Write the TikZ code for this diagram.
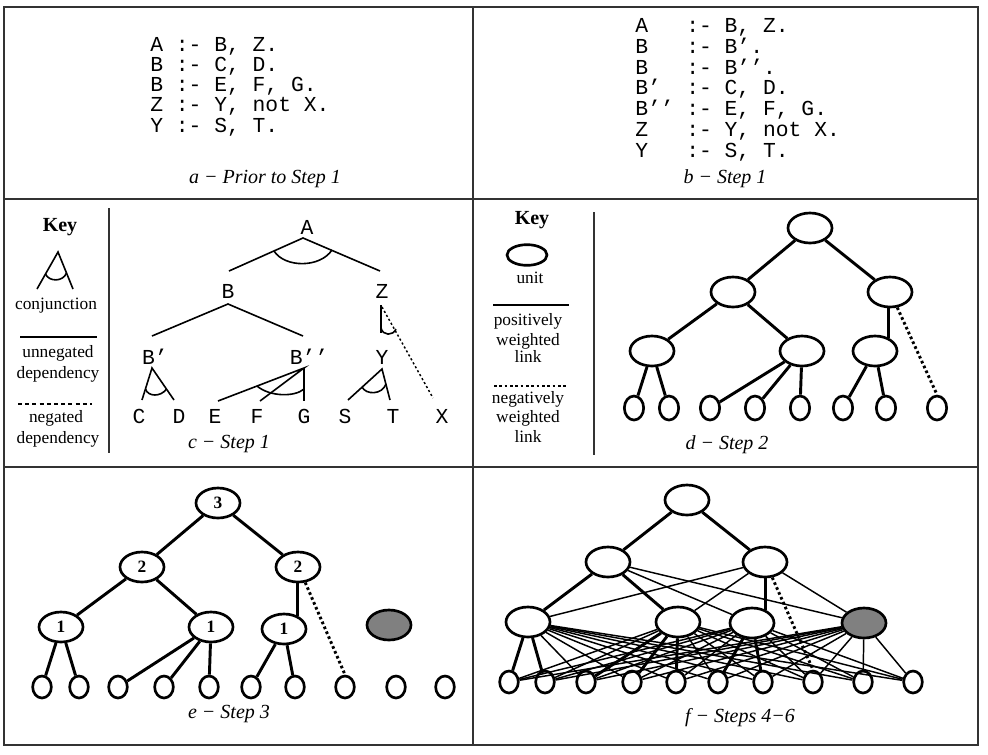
\documentclass[tikz,border=0pt]{standalone}
\usepackage{fontspec}
\setmainfont{Liberation Serif}
\setmonofont{Liberation Mono}
\usetikzlibrary{shapes.geometric}
\definecolor{unitgray}{RGB}{128,128,128}
\tikzset{
  panelframe/.style={draw=black!80, line width=1.4pt},
  sepline/.style={draw=black!80, line width=1.1pt},
  codeline/.style={font=\fontsize{16}{18}\ttfamily, anchor=base west, inner sep=0pt},
  lbl/.style={font=\fontsize{16}{18}\ttfamily, inner sep=0pt},
  captxt/.style={font=\fontsize{15}{17}\selectfont\itshape, anchor=base, inner sep=0pt},
  keyhead/.style={font=\fontsize{15}{17}\selectfont\bfseries, anchor=base, inner sep=0pt},
  keytxt/.style={font=\fontsize{13}{15}\selectfont, anchor=base, inner sep=0pt},
  deplink/.style={line width=1.2pt},
  negdep/.style={line width=1.1pt, dash pattern=on 1.6pt off 1.8pt},
  keydash/.style={line width=0.9pt, dash pattern=on 3pt off 2.4pt},
  unit/.style={ellipse, draw, line width=2pt, fill=white, minimum width=33pt, minimum height=22.5pt, inner sep=0pt, font=\fontsize{13}{15}\selectfont\bfseries},
  grayunit/.style={unit, fill=unitgray},
  leaf/.style={ellipse, draw, line width=2pt, fill=white, minimum width=14pt, minimum height=16.5pt, inner sep=0pt},
  tallleaf/.style={leaf, minimum width=14.5pt, minimum height=18pt},
  poslink/.style={line width=2.2pt},
  neglink/.style={line width=2.2pt, dash pattern=on 2pt off 2pt},
  thinlink/.style={line width=1.1pt},
}
\newcommand{\pr}{’}
\begin{document}
\begin{tikzpicture}[x=0.75pt, y=-0.75pt]
\useasboundingbox (0,0) rectangle (988,754);
% ---------- frame ----------
\draw[panelframe] (4,7) rectangle (978,745);
\draw[panelframe] (4,199) -- (978,199);
\draw[panelframe] (4,467) -- (978,467);
\draw[panelframe] (473,7) -- (473,745);

% ---------- panel a ----------
\node[codeline] (a1) at (150,51) {A :- B, Z.};
\node[codeline] (a2) at (150,71.3) {B :- C, D.};
\node[codeline] (a3) at (150,91.6) {B :- E, F, G.};
\node[codeline] (a4) at (150,111.9) {Z :- Y, not X.};
\node[codeline] (a5) at (150,132.2) {Y :- S, T.};
\node[captxt] (capa) at (265,183) {a − Prior to Step 1};

% ---------- panel b ----------
\node[codeline] (b1l) at (635,32.5) {A};
\node[codeline] (b1r) at (686,32.5) {:- B, Z.};
\node[codeline] (b2l) at (635,53.3) {B};
\node[codeline] (b2r) at (686,53.3) {:- B\pr.};
\node[codeline] (b3l) at (635,74.1) {B};
\node[codeline] (b3r) at (686,74.1) {:- B\pr\pr.};
\node[codeline] (b4l) at (635,94.9) {B\pr};
\node[codeline] (b4r) at (686,94.9) {:- C, D.};
\node[codeline] (b5l) at (635,115.7) {B\pr\pr};
\node[codeline] (b5r) at (686,115.7) {:- E, F, G.};
\node[codeline] (b6l) at (635,136.5) {Z};
\node[codeline] (b6r) at (686,136.5) {:- Y, not X.};
\node[codeline] (b7l) at (635,157.3) {Y};
\node[codeline] (b7r) at (686,157.3) {:- S, T.};
\node[captxt] (capb) at (725,183) {b − Step 1};

% ---------- panel c : key ----------
\node[keyhead] (ckey) at (60,231) {Key};
\coordinate (kA) at (58,252);
\coordinate (kAl) at (37,289);
\coordinate (kAr) at (73,289);
\draw[deplink] (kAl) -- (kA) -- (kAr);
\draw[deplink] (45.5,274) .. controls (49,282) and (63,282) .. (66.5,273);
\node[keytxt] (ckconj) at (56,309) {conjunction};
\coordinate (ksol1) at (20,337);
\coordinate (ksol2) at (97,337);
\draw[deplink] (ksol1) -- (ksol2);
\node[keytxt] (ckun1) at (58,357) {unnegated};
\node[keytxt] (ckun2) at (58,378) {dependency};
\coordinate (kdash1) at (18,404);
\coordinate (kdash2) at (92,404);
\draw[keydash] (kdash1) -- (kdash2);
\node[keytxt] (ckng1) at (56,422) {negated};
\node[keytxt] (ckng2) at (58,443) {dependency};
\coordinate (csep1) at (109,208);
\coordinate (csep2) at (109,453);
\draw[sepline] (csep1) -- (csep2);

% ---------- panel c : tree ----------
\node[lbl] (cA) at (307,227) {A};
\node[lbl] (cB) at (228,291) {B};
\node[lbl] (cZ) at (382,291) {Z};
\node[lbl] (cB1) at (155,357) {B\pr};
\node[lbl] (cB2) at (309,357) {B\pr\pr};
\node[lbl] (cY) at (382,357) {Y};
\node[lbl] (cC) at (139,416) {C};
\node[lbl] (cD) at (179,416) {D};
\node[lbl] (cE) at (215,416) {E};
\node[lbl] (cF) at (257,416) {F};
\node[lbl] (cG) at (304,416) {G};
\node[lbl] (cS) at (345,416) {S};
\node[lbl] (cT) at (393,416) {T};
\node[lbl] (cX) at (442,416) {X};

\coordinate (pA) at (303,238);
\coordinate (pAl) at (229,271);
\coordinate (pAr) at (380,271);
\draw[deplink] (pAl) -- (pA) -- (pAr);
\draw[deplink] (274,251) .. controls (285,268) and (320,268) .. (332,250);

\coordinate (pB) at (228,304);
\coordinate (pBl) at (152,336);
\coordinate (pBr) at (303,336);
\draw[deplink] (pBl) -- (pB) -- (pBr);

\coordinate (pZ) at (381,305);
\coordinate (pZy) at (381,333);
\coordinate (pZt) at (382,307);
\coordinate (pZx) at (433,398);
\draw[deplink] (pZ) -- (pZy);
\draw[negdep] (pZt) -- (pZx);
\draw[deplink] (381,328) .. controls (383,336) and (393,336) .. (396,329);

\coordinate (pB1) at (152,368);
\coordinate (pB1l) at (142,400);
\coordinate (pB1r) at (174,400);
\draw[deplink] (pB1l) -- (pB1) -- (pB1r);
\draw[deplink] (145.5,389) .. controls (148,397) and (161,397) .. (166.5,389);

\coordinate (pB2) at (304,368);
\coordinate (pB2e) at (218,401);
\coordinate (pB2f) at (260,401);
\coordinate (pB2g) at (304,401);
\draw[deplink] (pB2e) -- (pB2) -- (pB2f);
\draw[deplink] (pB2) -- (pB2g);
\draw[deplink] (257,386) .. controls (270,397) and (295,397) .. (304,389);

\coordinate (pY) at (382,369);
\coordinate (pYl) at (348,400);
\coordinate (pYr) at (390,400);
\draw[deplink] (pYl) -- (pY) -- (pYr);
\draw[deplink] (362,387) .. controls (366,395) and (382,395) .. (386,384);

\node[captxt] (capc) at (229,448) {c − Step 1};

% ---------- panel d : key ----------
\node[keyhead] (dkey) at (532,224) {Key};
\node[unit, minimum width=30pt, minimum height=15.5pt] (dkU) at (527,255) {};
\node[keytxt] (dkunit) at (530,283) {unit};
\coordinate (dks1) at (493,305);
\coordinate (dks2) at (569,305);
\draw[poslink] (dks1) -- (dks2);
\node[keytxt] (dkp1) at (528,325) {positively};
\node[keytxt] (dkp2) at (528,345) {weighted};
\node[keytxt] (dkp3) at (528,362) {link};
\coordinate (dkd1) at (494,386);
\coordinate (dkd2) at (567,386);
\draw[neglink] (dkd1) -- (dkd2);
\node[keytxt] (dkn1) at (528,403) {negatively};
\node[keytxt] (dkn2) at (528,422) {weighted};
\node[keytxt] (dkn3) at (528,442) {link};
\coordinate (dsep1) at (594,212);
\coordinate (dsep2) at (594,455);
\draw[sepline] (dsep1) -- (dsep2);

% ---------- panel d : network ----------
\node[unit] (dT) at (810,228) {};
\node[unit] (dL) at (733,292) {};
\node[unit] (dR) at (890,292) {};
\node[unit] (d1) at (652,351) {};
\node[unit] (d2) at (802,351) {};
\node[unit] (d3) at (875,351) {};
\foreach \i/\x in {1/634,2/669,3/710,4/755,5/800,6/843,7/886,8/937}
  \node[tallleaf] (dl\i) at (\x,408) {};
\draw[poslink] (dT) -- (dL);
\draw[poslink] (dT) -- (dR);
\draw[poslink] (dL) -- (d1);
\draw[poslink] (dL) -- (d2);
\draw[poslink] (d3.45 |- dR.south) -- (d3.45);
\draw[neglink] (dR.-65) -- (dl8.north);
\draw[poslink] (d1) -- (dl1);
\draw[poslink] (d1) -- (dl2);
\draw[poslink] (d2) -- (dl3);
\draw[poslink] (d2) -- (dl4);
\draw[poslink] (d2) -- (dl5);
\draw[poslink] (d3) -- (dl6);
\draw[poslink] (d3) -- (dl7);
\node[captxt] (capd) at (727,449) {d − Step 2};

% ---------- panel e ----------
\node[unit] (eT) at (218,503) {3};
\node[unit] (eL) at (142,567) {2};
\node[unit] (eR) at (298,567) {2};
\node[unit] (e1) at (61,627) {1};
\node[unit] (e2) at (211,627) {1};
\node[unit] (e3) at (284,629) {1};
\node[grayunit] (eG) at (389,625) {};
\foreach \i/\x in {1/42,2/79,3/118,4/164,5/209,6/251,7/295,8/345,9/396,10/445}
  \node[leaf] (el\i) at (\x,687) {};
\draw[poslink] (eT) -- (eL);
\draw[poslink] (eT) -- (eR);
\draw[poslink] (eL) -- (e1);
\draw[poslink] (eL) -- (e2);
\draw[poslink] (e3.45 |- eR.south) -- (e3.45);
\draw[neglink] (eR.-65) -- (el8.north);
\draw[poslink] (e1) -- (el1);
\draw[poslink] (e1) -- (el2);
\draw[poslink] (e2) -- (el3);
\draw[poslink] (e2) -- (el4);
\draw[poslink] (e2) -- (el5);
\draw[poslink] (e3) -- (el6);
\draw[poslink] (e3) -- (el7);
\node[captxt] (cape) at (229,718) {e − Step 3};

% ---------- panel f ----------
\node[unit] (fT) at (687,500) {};
\node[unit] (fL) at (608,562) {};
\node[unit] (fR) at (765,562) {};
\node[unit] (fa) at (528,622) {};
\node[unit] (fb) at (678,622) {};
\node[unit] (fc) at (752,623) {};
\node[grayunit] (fg) at (864,623) {};
\foreach \i/\x in {1/509,2/545,3/586,4/632,5/676,6/718,7/763,8/813,9/863,10/913}
  \node[leaf] (fl\i) at (\x,682) {};
\foreach \u in {fa,fb,fc,fg}
  \foreach \i in {1,...,10}
    \draw[thinlink] (\u) -- (fl\i);
\draw[thinlink] (fL) -- (fc);
\draw[thinlink] (fL) -- (fg);
\draw[thinlink] (fR) -- (fa);
\draw[thinlink] (fR) -- (fb);
\draw[thinlink] (fR) -- (fg);
\draw[poslink] (fT) -- (fL);
\draw[poslink] (fT) -- (fR);
\draw[poslink] (fL) -- (fa);
\draw[poslink] (fL) -- (fb);
\draw[poslink] (fc.45 |- fR.south) -- (fc.45);
\draw[neglink] (fR.-65) -- (fl8.north);
\draw[poslink] (fa) -- (fl1);
\draw[poslink] (fa) -- (fl2);
\draw[poslink] (fb) -- (fl3);
\draw[poslink] (fb) -- (fl4);
\draw[poslink] (fb) -- (fl5);
\draw[poslink] (fc) -- (fl6);
\draw[poslink] (fc) -- (fl7);
\node[captxt] (capf) at (740,722) {f − Steps 4−6};
\end{tikzpicture}
\end{document}
